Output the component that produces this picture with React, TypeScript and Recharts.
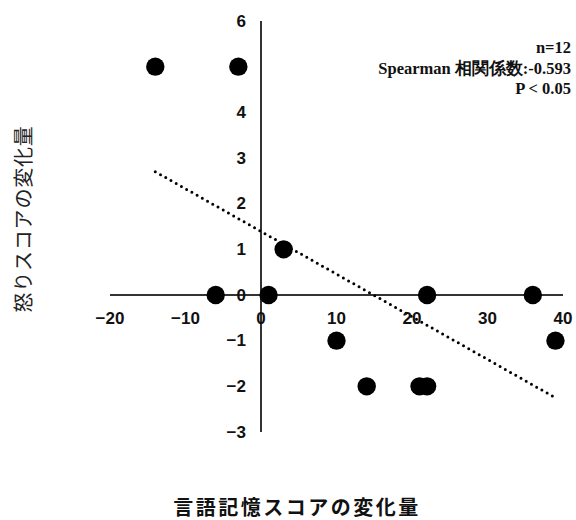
import React from 'react';
import { ScatterChart, Scatter, XAxis, YAxis, ReferenceLine, ReferenceDot } from 'recharts';

const xValues = [-14, -3, 3, -6, 1, 22, 36, 10, 39, 14, 21, 22];
const yValues = [5, 5, 1, 0, 0, 0, 0, -1, -1, -2, -2, -2];
const xTicks = [-20, -10, 0, 10, 20, 30, 40];
const yTicks = [-3, -2, -1, 0, 1, 2, 3, 4, 5, 6];
const trendX = [-14, 39];
const trendY = [2.7, -2.25];
const annotation = ['n=12', 'Spearman 相関係数:-0.593', 'P < 0.05'];
const xTitle = '言語記憶スコアの変化量';
const yTitle = '怒りスコアの変化量';

const points = xValues.map((x, i) => ({ x, y: yValues[i] }));
const trendSegment = trendX.map((x, i) => ({ x, y: trendY[i] }));

const fmt = (v: number) => (v < 0 ? '\u2212' + Math.abs(v) : String(v));

const tickFont = {
  fontFamily: '"Liberation Sans", Arial, sans-serif',
  fontWeight: 700,
  fontSize: 17,
  fill: '#111',
};

const XTick = (label: string) => (p: any) => (
  <text x={p.cx} y={p.cy + 23} textAnchor="middle" dominantBaseline="central" {...tickFont}>
    {label}
  </text>
);

const YTick = (label: string) => (p: any) => (
  <text x={p.cx - 15} y={p.cy} textAnchor="end" dominantBaseline="central" {...tickFont}>
    {label}
  </text>
);

const Dot = (p: any) => <circle cx={p.cx} cy={p.cy} r={9.2} fill="#000" />;

export default function App() {
  return (
    <div style={{ position: 'absolute', left: 0, top: 0, width: 576, height: 520, background: '#fff', overflow: 'hidden' }}>
      <ScatterChart width={576} height={520} margin={{ top: 21, right: 13, bottom: 88, left: 110 }}>
        <XAxis type="number" dataKey="x" domain={[-20, 40]} ticks={xTicks} hide />
        <YAxis type="number" dataKey="y" domain={[-3, 6]} ticks={yTicks} hide />
        {xTicks.map((t) => (
          <ReferenceDot key={'xt' + t} x={t} y={0} r={0} shape={XTick(fmt(t))} />
        ))}
        {yTicks.map((t) => (
          <ReferenceDot key={'yt' + t} x={0} y={t} r={0} shape={YTick(fmt(t))} />
        ))}
        <ReferenceLine y={0} stroke="#333" strokeWidth={2} />
        <ReferenceLine x={0} stroke="#333" strokeWidth={2} />
        <ReferenceLine
          segment={trendSegment}
          stroke="#000"
          strokeWidth={3}
          strokeDasharray="0 6"
          strokeLinecap="round"
        />
        <Scatter data={points} fill="#000" shape={Dot} isAnimationActive={false} />
      </ScatterChart>
      <div
        style={{
          position: 'absolute',
          right: 5,
          top: 38,
          textAlign: 'right',
          fontFamily: '"Liberation Serif", "Times New Roman", serif',
          fontWeight: 700,
          fontSize: 16.5,
          lineHeight: '20.5px',
          color: '#111',
          whiteSpace: 'nowrap',
        }}
      >
        {annotation.map((a) => (
          <div key={a}>{a}</div>
        ))}
      </div>
      <div
        style={{
          position: 'absolute',
          left: 23,
          top: 219,
          transform: 'translate(-50%, -50%) rotate(-90deg)',
          fontFamily: '"Noto Sans CJK JP", sans-serif',
          fontSize: 20,
          lineHeight: '22px',
          letterSpacing: '0.8px',
          color: '#222',
          whiteSpace: 'nowrap',
        }}
      >
        {yTitle}
      </div>
      <div
        style={{
          position: 'absolute',
          left: 297,
          top: 507,
          transform: 'translate(-50%, -50%)',
          fontFamily: '"Noto Sans CJK JP", sans-serif',
          fontWeight: 700,
          fontSize: 20,
          lineHeight: '20px',
          letterSpacing: '2.5px',
          color: '#111',
          whiteSpace: 'nowrap',
        }}
      >
        {xTitle}
      </div>
    </div>
  );
}
